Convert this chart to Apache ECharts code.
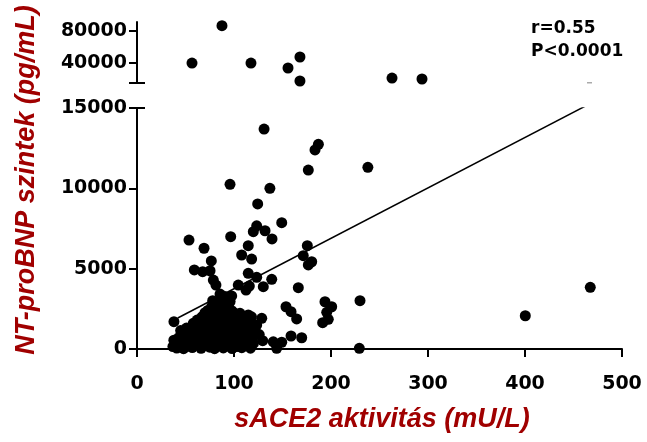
<!DOCTYPE html>
<html><head><meta charset="utf-8">
<script src="https://cdn.jsdelivr.net/npm/echarts@6/dist/echarts.min.js"></script>
<style>html,body{margin:0;padding:0;background:#fff}#c{width:647px;height:442px}</style>
</head><body><div id="c"></div>
<script>
// ---- data ----
const xTicks = [0, 100, 200, 300, 400, 500];
const yLowTicks = [0, 5000, 10000, 15000];
const yHighTicks = [40000, 80000];

// points in the lower (0-15000) segment
const lowX = [131,187,183.5,176.6,238,95.9,137,124.4,149.2,123.4,119.9,132,139.2,96.6,53.6,69.1,114.7,107.9,118.2,175.6,171.4,180.1,176.6,76.6,59.1,67.7,75.3,78.7,81.4,114.7,123.4,138.9,130.2,104.4,112.4,115.8,166.3,85.6,90.7,97.6,78,77,70.1,193.8,200.7,195.6,197.2,191.4,229.9,153.6,158.8,164.6,38.1,158.8,169.8,129.6,140.5,149.2,144,229.2,128.6,123.4,121.6,97.6,106.2,114.7,400.3,467.3,
  37,41,44,48,53,57,62,66,71,75,80,84,89,94,98,103,108,112,117,
  38,43,49,54,58,63,68,72,77,82,86,91,96,100,105,110,114,119,
  45,51,56,61,66,70,75,79,84,88,93,97,102,107,111,116,
  62,67,72,77,82,87,92,96,101,106,
  73,80,84,89,94,88,
  42,50,59,68,78,87,96,105,113,120,
  48,57,65,74,83,92,101,109,118,
  58,66,75,85,95,104,112,
  70,78,86,93,100,
  80,92,86,96,
  118,113,120,126];
const lowY = [13690,12740,12390,11140,11310,10250,10000,9030,7860,7670,7300,7360,6850,6990,6780,6270,6430,5850,5600,6430,5810,5430,5230,5480,4920,4810,4870,4290,3980,4710,4460,4340,3880,3980,3670,3920,3820,3420,3260,3300,3010,2630,2260,2940,2630,2280,1850,1640,3010,2630,2320,1870,1700,810,700,520,450,420,40,40,1910,1490,1180,2380,2220,2120,2070,3840,
  150,60,250,20,180,90,300,40,200,110,20,260,70,190,30,150,80,240,50,
  550,700,480,820,600,900,520,760,640,880,560,720,830,600,740,520,880,650,
  1150,1300,1100,1450,1250,1500,1180,1380,1550,1200,1420,1280,1500,1350,1150,1450,
  1800,2000,1750,1950,1850,2100,1700,1950,1820,1750,
  2400,2250,2600,2350,2700,2900,
  400,350,420,380,450,400,380,420,400,350,
  950,1000,1050,980,1020,1000,1050,950,1000,
  1600,1650,1600,1650,1600,1650,1600,
  2150,2100,2300,2150,2250,
  2800,2550,3100,2950,
  2000,1750,850,900];

// points in the upper (15000+) segment
const highX = [87.6, 56.7, 117.5, 155.7, 168.0, 168.0, 262.9, 293.8];
const highY = [86400, 39900, 39900, 33700, 47400, 17500, 21200, 20000];

// regression line end points
const fitX = [42, 468];
const fitY = [1930, 15300];

// ---- chart ----
const zip = (a, b) => a.map((v, i) => [v, b[i]]);
const tickFont = { fontFamily: 'DejaVu Sans', fontWeight: 'bold', fontSize: 19, color: '#000', formatter: v => String(v) };
const titleFont = 'italic bold 27px "Liberation Sans", Arial, sans-serif';
const axisLine = { show: true, onZero: false, lineStyle: { color: '#000', width: 2 } };
const tick = (vals, inside) => ({ show: true, inside: !!inside, length: 8, customValues: vals, lineStyle: { color: '#000', width: 2 } });

const chart = echarts.init(document.getElementById('c'), null, { renderer: 'canvas' });
chart.setOption({
  animation: false,
  backgroundColor: '#fff',
  grid: [
    { left: 137, right: 25, top: 108, bottom: 93 },
    { left: 137, right: 25, top: 22, height: 61 }
  ],
  xAxis: [
    { gridIndex: 0, type: 'value', min: 0, max: 500, interval: 100,
      axisLine: axisLine, axisTick: tick(xTicks),
      axisLabel: Object.assign({ margin: 26, customValues: xTicks }, tickFont), splitLine: { show: false } },
    { gridIndex: 1, type: 'value', min: 0, max: 500, show: false }
  ],
  yAxis: [
    { gridIndex: 0, type: 'value', min: 0, max: 15000, interval: 5000,
      axisLine: axisLine, axisTick: tick(yLowTicks),
      axisLabel: Object.assign({ margin: 10, customValues: yLowTicks }, tickFont), splitLine: { show: false } },
    { gridIndex: 1, type: 'value', min: 15000, max: 91000,
      axisLine: axisLine, axisTick: tick([15000].concat(yHighTicks)),
      axisLabel: Object.assign({ margin: 10, customValues: yHighTicks }, tickFont), splitLine: { show: false } },
    { gridIndex: 0, type: 'value', min: 0, max: 15000, position: 'left',
      axisLine: { show: false }, axisTick: tick([15000], true), axisLabel: { show: false }, splitLine: { show: false } },
    { gridIndex: 1, type: 'value', min: 15000, max: 91000, position: 'left',
      axisLine: { show: false }, axisTick: tick([15000], true), axisLabel: { show: false }, splitLine: { show: false } }
  ],
  series: [
    { type: 'scatter', xAxisIndex: 0, yAxisIndex: 0, data: zip(lowX, lowY), symbolSize: 11,
      itemStyle: { color: '#000', opacity: 1 } },
    { type: 'scatter', xAxisIndex: 1, yAxisIndex: 1, data: zip(highX, highY), symbolSize: 11,
      itemStyle: { color: '#000', opacity: 1 } },
    { type: 'line', xAxisIndex: 0, yAxisIndex: 0, data: zip(fitX, fitY), showSymbol: false, clip: true,
      lineStyle: { color: '#000', width: 1.5 }, z: 1 }
  ],
  graphic: [
    { type: 'text', x: 27, y: 180, rotation: Math.PI / 2,
      style: { text: 'NT-proBNP szintek (pg/mL)', font: titleFont, fill: '#a00000', align: 'center', verticalAlign: 'middle' } },
    { type: 'text', x: 382, y: 420,
      style: { text: 'sACE2 aktivitás (mU/L)', font: titleFont, fill: '#a00000', align: 'center', verticalAlign: 'middle' } },
    { type: 'text', x: 531, y: 20,
      style: { text: 'r=0.55', font: 'bold 17px "DejaVu Sans"', fill: '#000', align: 'left', verticalAlign: 'top' } },
    { type: 'text', x: 531, y: 43,
      style: { text: 'P<0.0001', font: 'bold 17px "DejaVu Sans"', fill: '#000', align: 'left', verticalAlign: 'top' } },
    { type: 'rect', shape: { x: 587, y: 82, width: 5, height: 1.5 }, style: { fill: '#aaa' } }
  ]
});
</script></body></html>
